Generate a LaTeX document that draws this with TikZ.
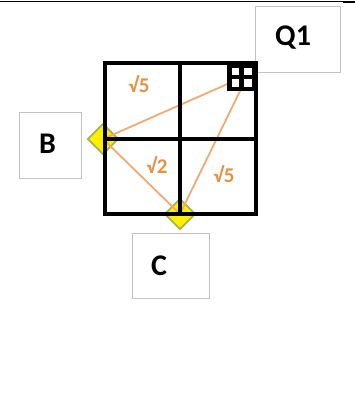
\documentclass[tikz,border=0pt]{standalone}
\usepackage{fontspec}
\setmainfont{Carlito}
\usetikzlibrary{shapes.geometric}
\definecolor{boxgray}{RGB}{195,195,195}
\definecolor{oline}{RGB}{240,170,115}
\definecolor{otext}{RGB}{230,145,70}
\definecolor{dfill}{RGB}{255,240,0}
\definecolor{dborder}{RGB}{165,180,80}
\tikzset{
  labelbox/.style={draw=boxgray, line width=1pt, fill=white, inner sep=0pt, anchor=north west},
  boxtext/.style={anchor=west, inner sep=0pt, font=\fontsize{30}{34}\selectfont\bfseries},
  marker/.style={diamond, fill=dfill, draw=dborder, line width=1.8pt, inner sep=0pt, minimum size=31pt},
  distline/.style={draw=oline, line width=1.8pt},
  dist/.style={text=otext, inner sep=0pt, font=\fontsize{21}{24}\selectfont\bfseries},
  gridline/.style={line width=3.8pt, line cap=rect},
  smallgrid/.style={line width=4.5pt}
}
\begin{document}
\begin{tikzpicture}[x=1pt,y=-1pt]
\useasboundingbox (0,0) rectangle (355,393);
% top rule
\draw[line width=1pt] (0,1.5) -- (343,1.5);
\draw[line width=2.5pt] (343,1.8) -- (355,1.8);
% label boxes
\node[labelbox, minimum width=85pt, minimum height=66pt] (Qbox) at (255,6) {};
\node[boxtext] (Qtxt) at (275,38) {Q1};
\node[labelbox, minimum width=62pt, minimum height=66pt] (Bbox) at (19,112) {};
\node[boxtext] (Btxt) at (39,144) {B};
\node[labelbox, minimum width=77pt, minimum height=65pt] (Cbox) at (132,233) {};
\node[boxtext] (Ctxt) at (151,266) {C};
% markers
\node[marker] (dB) at (103,139) {};
\node[marker] (dC) at (180,214) {};
% distance lines
\coordinate (QB) at (232,82);
\coordinate (QC) at (241,89);
\draw[distline] (dB.center) -- (QB);
\draw[distline] (dC.center) -- (QC);
\draw[distline] (dB.center) -- (dC.center);
% grid
\coordinate (g1) at (105,63);
\coordinate (g2) at (256,214);
\draw[gridline] (g1) rectangle (g2);
\draw[gridline] (180,63) -- (180,214);
\draw[gridline] (105,139) -- (256,139);
% small grid
\draw[smallgrid] (229.5,65.5) rectangle (253.8,89);
\draw[smallgrid] (241.6,65.5) -- (241.6,89);
\draw[smallgrid] (229.5,77.2) -- (253.8,77.2);
% distance labels
\node[dist] (l1) at (139,84) {√5};
\node[dist] (l2) at (157,165) {√2};
\node[dist] (l3) at (224,174) {√5};
\end{tikzpicture}
\end{document}
